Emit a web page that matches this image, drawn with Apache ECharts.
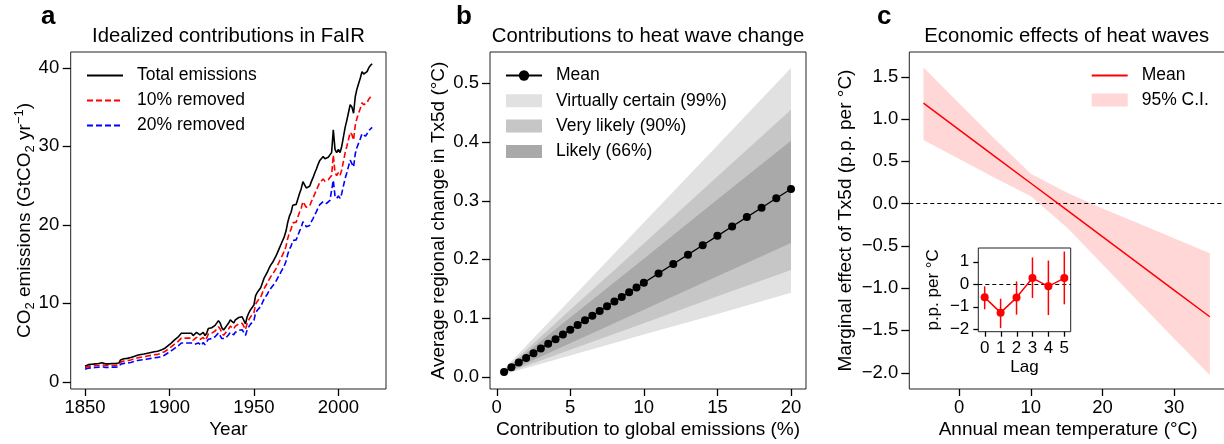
<!DOCTYPE html>
<html><head><meta charset="utf-8">
<script src="https://cdn.jsdelivr.net/npm/echarts@6/dist/echarts.min.js"></script>
<style>html,body{margin:0;padding:0;background:#fff}#c{width:1224px;height:444px}</style>
</head><body><div id="c"></div>
<script>
const FONT = '"Liberation Sans", Arial, Helvetica, sans-serif';

// ---------- Panel a: idealized contributions in FaIR ----------
const aYears = [
1850,1851,1852,1853,1854,1855,1856,1857,1858,1859,
1860,1861,1862,1863,1864,1865,1866,1867,1868,1869,
1870,1871,1872,1873,1874,1875,1876,1877,1878,1879,
1880,1881,1882,1883,1884,1885,1886,1887,1888,1889,
1890,1891,1892,1893,1894,1895,1896,1897,1898,1899,
1900,1901,1902,1903,1904,1905,1906,1907,1908,1909,
1910,1911,1912,1913,1914,1915,1916,1917,1918,1919,
1920,1921,1922,1923,1924,1925,1926,1927,1928,1929,
1930,1931,1932,1933,1934,1935,1936,1937,1938,1939,
1940,1941,1942,1943,1944,1945,1946,1947,1948,1949,
1950,1951,1952,1953,1954,1955,1956,1957,1958,1959,
1960,1961,1962,1963,1964,1965,1966,1967,1968,1969,
1970,1971,1972,1973,1974,1975,1976,1977,1978,1979,
1980,1981,1982,1983,1984,1985,1986,1987,1988,1989,
1990,1991,1992,1993,1994,1995,1996,1997,1998,1999,
2000,2001,2002,2003,2004,2005,2006,2007,2008,2009,
2010,2011,2012,2013,2014,2015,2016,2017,2018,2019,
2020];
const aTotal = [
2.0,2.2,2.2,2.25,2.25,2.3,2.3,2.35,2.35,2.4,
2.45,2.5,2.3,2.3,2.3,2.3,2.35,2.35,2.35,2.4,
2.4,2.8,2.9,2.95,3.0,3.0,3.05,3.1,3.15,3.25,
3.35,3.4,3.45,3.5,3.5,3.55,3.6,3.65,3.7,3.75,
3.8,3.85,3.9,3.9,3.95,4.05,4.15,4.25,4.4,4.6,
4.75,4.95,5.1,5.35,5.5,5.7,5.9,6.2,6.1,6.2,
6.3,6.2,6.3,6.2,5.9,6.0,6.3,6.2,6.0,5.8,
6.3,5.9,6.2,6.8,6.8,6.9,6.9,7.2,7.4,7.8,
7.5,6.9,6.6,6.9,7.2,7.5,7.9,7.8,7.5,7.9,
8.0,8.2,8.2,8.3,8.4,7.4,8.3,8.8,9.2,9.3,
9.8,11.0,11.4,11.7,12.0,12.6,13.2,13.6,14.0,14.5,
14.9,15.2,15.6,16.0,16.5,17.0,17.5,18.0,18.5,19.2,
20.3,21.1,21.6,22.5,22.4,22.6,23.3,24.0,24.6,25.5,
25.1,24.7,24.6,24.9,25.5,26.0,26.6,27.1,27.7,28.2,
28.3,28.7,28.4,28.4,28.6,28.9,29.2,32.1,29.6,29.2,
29.6,29.2,30.0,31.2,32.4,33.3,34.3,35.3,35.0,34.2,
36.3,37.3,38.0,38.7,39.5,39.2,39.1,39.5,40.0,40.3,
40.5];
const aRemoved10 = [
1.8,1.98,1.98,2.03,2.03,2.07,2.07,2.12,2.12,2.16,
2.21,2.25,2.07,2.07,2.07,2.07,2.12,2.12,2.12,2.16,
2.16,2.52,2.61,2.66,2.7,2.7,2.75,2.79,2.84,2.93,
3.02,3.06,3.11,3.15,3.15,3.2,3.24,3.29,3.33,3.38,
3.42,3.47,3.51,3.51,3.56,3.65,3.74,3.83,3.96,4.14,
4.28,4.46,4.59,4.82,4.95,5.13,5.31,5.58,5.49,5.58,
5.67,5.58,5.67,5.58,5.31,5.4,5.67,5.58,5.4,5.22,
5.67,5.31,5.58,6.12,6.12,6.21,6.21,6.48,6.66,7.02,
6.75,6.21,5.94,6.21,6.48,6.75,7.11,7.02,6.75,7.11,
7.2,7.38,7.38,7.47,7.56,6.66,7.47,7.92,8.28,8.37,
8.82,9.9,10.26,10.53,10.8,11.34,11.88,12.24,12.6,13.05,
13.41,13.68,14.04,14.4,14.85,15.3,15.75,16.2,16.65,17.28,
18.27,18.99,19.44,20.25,20.16,20.34,20.97,21.6,22.14,22.95,
22.59,22.23,22.14,22.41,22.95,23.4,23.94,24.39,24.93,25.38,
25.47,25.83,25.56,25.56,25.74,26.01,26.28,28.89,26.64,26.28,
26.64,26.28,27.0,28.08,29.16,29.97,30.87,31.77,31.5,30.78,
32.67,33.57,34.2,34.83,35.55,35.28,35.19,35.55,36.0,36.27,
36.45];
const aRemoved20 = [
1.6,1.76,1.76,1.8,1.8,1.84,1.84,1.88,1.88,1.92,
1.96,2.0,1.84,1.84,1.84,1.84,1.88,1.88,1.88,1.92,
1.92,2.24,2.32,2.36,2.4,2.4,2.44,2.48,2.52,2.6,
2.68,2.72,2.76,2.8,2.8,2.84,2.88,2.92,2.96,3.0,
3.04,3.08,3.12,3.12,3.16,3.24,3.32,3.4,3.52,3.68,
3.8,3.96,4.08,4.28,4.4,4.56,4.72,4.96,4.88,4.96,
5.04,4.96,5.04,4.96,4.72,4.8,5.04,4.96,4.8,4.64,
5.04,4.72,4.96,5.44,5.44,5.52,5.52,5.76,5.92,6.24,
6.0,5.52,5.28,5.52,5.76,6.0,6.32,6.24,6.0,6.32,
6.4,6.56,6.56,6.64,6.72,5.92,6.64,7.04,7.36,7.44,
7.84,8.8,9.12,9.36,9.6,10.08,10.56,10.88,11.2,11.6,
11.92,12.16,12.48,12.8,13.2,13.6,14.0,14.4,14.8,15.36,
16.24,16.88,17.28,18.0,17.92,18.08,18.64,19.2,19.68,20.4,
20.08,19.76,19.68,19.92,20.4,20.8,21.28,21.68,22.16,22.56,
22.64,22.96,22.72,22.72,22.88,23.12,23.36,25.68,23.68,23.36,
23.68,23.36,24.0,24.96,25.92,26.64,27.44,28.24,28.0,27.36,
29.04,29.84,30.4,30.96,31.6,31.36,31.28,31.6,32.0,32.24,
32.4];
const aXTicks = [1850, 1900, 1950, 2000];
const aYTicks = [0, 10, 20, 30, 40];

// ---------- Panel b: contributions to heat wave change ----------
const bX = [0.5,1,1.5,2,2.5,3,3.5,4,4.5,5,5.5,6,6.5,7,7.5,8,8.5,9,9.5,10,11,12,13,14,15,16,17,18,19,20];
const bMean = [0.008,0.016,0.024,0.032,0.040,0.048,0.056,0.064,0.072,0.080,0.088,0.096,0.104,0.112,0.120,0.128,0.136,0.144,0.152,0.160,0.176,0.192,0.208,0.224,0.240,0.256,0.272,0.288,0.304,0.320];
const bBandX = [0.5, 5, 10, 15, 20];
const bLow99 = [0.004, 0.036, 0.072, 0.107, 0.143];
const bUp99  = [0.013, 0.131, 0.263, 0.394, 0.526];
const bLow90 = [0.005, 0.046, 0.091, 0.137, 0.182];
const bUp90  = [0.011, 0.114, 0.227, 0.341, 0.455];
const bLow66 = [0.006, 0.057, 0.114, 0.171, 0.228];
const bUp66  = [0.010, 0.101, 0.201, 0.302, 0.402];
const bXTicks = [0, 5, 10, 15, 20];
const bYTicks = [0, 0.1, 0.2, 0.3, 0.4, 0.5];

// ---------- Panel c: economic effects of heat waves ----------
const cX = [-5, 0, 5, 10, 15, 20, 25, 30, 35];
const cMean  = [1.185, 0.870, 0.554, 0.239, -0.077, -0.393, -0.708, -1.024, -1.339];
const cUpper = [1.606, 1.18, 0.76, 0.35, 0.13, -0.06, -0.235, -0.41, -0.589];
const cLower = [0.751, 0.525, 0.30, 0.085, -0.28, -0.72, -1.16, -1.595, -2.028];
const cXTicks = [0, 10, 20, 30];
const cYTicks = [-2, -1.5, -1, -0.5, 0, 0.5, 1, 1.5];

// ---------- Inset: lag effects ----------
const lagX = [0, 1, 2, 3, 4, 5];
const lagMean = [-0.59, -1.27, -0.60, 0.27, -0.10, 0.27];
const lagLow  = [-1.12, -1.96, -1.36, -0.62, -1.38, -0.90];
const lagHigh = [-0.10, -0.65, 0.12, 1.19, 1.05, 1.45];
const lagXTicks = [0, 1, 2, 3, 4, 5];
const lagYTicks = [-2, -1, 0, 1];

const MINUS = '\u2212';
function fmtSigned(d) {
  return function (v) { const s = Math.abs(v).toFixed(d); return v < -1e-9 ? MINUS + s : s; };
}

// axis ranges (frame extents)
const RANGES = [
  { x: [1841.5, 2028.2], y: [-0.9, 42.0] },
  { x: [-0.455, 21.02], y: [-0.021, 0.5534] },
  { x: [-6.98, 37.4], y: [-2.193, 1.79] },
  { x: [-0.40, 5.40], y: [-2.12, 1.61] }
];
// tick sets per grid (x ticks, y ticks, tick lengths)
const TICKSETS = [
  { g: 0, xs: aXTicks, ys: aYTicks, lx: 7, ly: 8 },
  { g: 1, xs: bXTicks, ys: bYTicks, lx: 7, ly: 8 },
  { g: 2, xs: cXTicks, ys: cYTicks, lx: 7, ly: 8 },
  { g: 3, xs: lagXTicks, ys: lagYTicks, lx: 5, ly: 5 }
];

function axis(o) {
  return {
    type: 'value', gridIndex: o.grid, min: o.min, max: o.max,
    axisLine: { show: false, onZero: false },
    splitLine: { show: false },
    axisTick: { show: false },
    axisLabel: { show: true, customValues: o.ticks, formatter: o.fmt, margin: o.margin,
      fontSize: o.fs || 18.5, color: '#000', fontFamily: FONT },
    name: o.name, nameLocation: 'middle', nameGap: o.nameGap, nameMoveOverlap: false,
    nameTextStyle: Object.assign({ fontSize: o.nfs || 19, color: '#000', fontFamily: FONT }, o.nts || {})
  };
}

const gridBase = { show: true, borderColor: '#222', borderWidth: 1, backgroundColor: 'transparent',
  containLabel: false, outerBoundsMode: 'none' };

function polygonRenderer(xs, lo, hi, color) {
  return function (params, api) {
    if (params.dataIndex !== 0) return null;
    const pts = [];
    for (let i = 0; i < xs.length; i++) pts.push(api.coord([xs[i], hi[i]]));
    for (let i = xs.length - 1; i >= 0; i--) pts.push(api.coord([xs[i], lo[i]]));
    return { type: 'polygon', shape: { points: pts }, style: { fill: color } };
  };
}

const C99 = '#e1e1e1', C90 = '#c6c6c6', C66 = '#a9a9a9', CPINK = '#ffd7d7';
const legendText = { fontSize: 17.5, color: '#000', fontFamily: FONT, lineHeight: 20, padding: [0, 0, 0, 9] };

const TEXT_GRAPHICS = [
  { id: 'la', type: 'text', x: 41, y: 17, style: { text: 'a', font: 'bold 26px ' + FONT, fill: '#000', verticalAlign: 'middle' } },
  { id: 'lb', type: 'text', x: 456, y: 17, style: { text: 'b', font: 'bold 26px ' + FONT, fill: '#000', verticalAlign: 'middle' } },
  { id: 'lc', type: 'text', x: 877, y: 17, style: { text: 'c', font: 'bold 26px ' + FONT, fill: '#000', verticalAlign: 'middle' } },
  { id: 'ta', type: 'text', x: 228.4, y: 36, style: { text: 'Idealized contributions in FaIR', font: '20.3px ' + FONT, fill: '#000', align: 'center', verticalAlign: 'middle' } },
  { id: 'tb', type: 'text', x: 648, y: 36, style: { text: 'Contributions to heat wave change', font: '20.3px ' + FONT, fill: '#000', align: 'center', verticalAlign: 'middle' } },
  { id: 'tc', type: 'text', x: 1066.7, y: 36, style: { text: 'Economic effects of heat waves', font: '20.3px ' + FONT, fill: '#000', align: 'center', verticalAlign: 'middle' } }
];

const option = {
  animation: false,
  backgroundColor: '#fff',
  textStyle: { fontFamily: FONT },
  grid: [
    Object.assign({ left: 70.7, right: 838, top: 52, bottom: 55 }, gridBase),
    Object.assign({ left: 490, right: 418, top: 52, bottom: 55 }, gridBase),
    Object.assign({ left: 909.3, right: -3, top: 52, bottom: 55 }, gridBase),
    Object.assign({}, gridBase, { left: 978.3, right: 153.3, top: 248, bottom: 112.3, backgroundColor: '#fff' })
  ],
  xAxis: [
    axis({ grid: 0, min: RANGES[0].x[0], max: RANGES[0].x[1], ticks: aXTicks, fmt: v => String(v), margin: 9.5,
      name: 'Year', nameGap: 31 }),
    axis({ grid: 1, min: RANGES[1].x[0], max: RANGES[1].x[1], ticks: bXTicks, fmt: v => String(v), margin: 9.5,
      name: 'Contribution to global emissions (%)', nameGap: 31 }),
    axis({ grid: 2, min: RANGES[2].x[0], max: RANGES[2].x[1], ticks: cXTicks, fmt: v => String(v), margin: 9.5,
      name: 'Annual mean temperature (\u00b0C)', nameGap: 31 }),
    axis({ grid: 3, min: RANGES[3].x[0], max: RANGES[3].x[1], ticks: lagXTicks, fmt: v => String(v), margin: 8,
      fs: 17, nfs: 17, name: 'Lag', nameGap: 27 })
  ],
  yAxis: [
    axis({ grid: 0, min: RANGES[0].y[0], max: RANGES[0].y[1], ticks: aYTicks, fmt: v => String(v), margin: 11.5,
      name: '{n|CO}{s|2}{n| emissions (GtCO}{s|2}{n| yr}{p|\u22121}{n|)}', nameGap: 34,
      nts: { rich: {
        n: { fontSize: 19, color: '#000', fontFamily: FONT, lineHeight: 24 },
        s: { fontSize: 13, color: '#000', fontFamily: FONT, verticalAlign: 'bottom', lineHeight: 13 },
        p: { fontSize: 13, color: '#000', fontFamily: FONT, verticalAlign: 'top', lineHeight: 13 }
      } } }),
    axis({ grid: 1, min: RANGES[1].y[0], max: RANGES[1].y[1], ticks: bYTicks, fmt: v => v.toFixed(1), margin: 11,
      name: 'Average regional change in Tx5d (\u00b0C)', nameGap: 42 }),
    axis({ grid: 2, min: RANGES[2].y[0], max: RANGES[2].y[1], ticks: cYTicks, fmt: fmtSigned(1), margin: 11,
      name: 'Marginal effect of Tx5d (p.p. per \u00b0C)', nameGap: 54 }),
    axis({ grid: 3, min: RANGES[3].y[0], max: RANGES[3].y[1], ticks: lagYTicks, fmt: fmtSigned(0), margin: 9,
      fs: 17, nfs: 17, name: 'p.p. per \u00b0C', nameGap: 36 })
  ],
  legend: [
    { orient: 'vertical', left: 86, top: 65.5, padding: 0, itemWidth: 36, itemHeight: 14, itemGap: 5, selectedMode: false,
      itemStyle: { opacity: 0 },
      data: ['Total emissions', '10% removed', '20% removed'],
      textStyle: legendText },
    { orient: 'vertical', left: 505, top: 65.5, padding: 0, itemWidth: 36, itemHeight: 13, itemGap: 5.3, selectedMode: false,
      data: [ { name: 'Mean' },
        { name: 'Virtually certain (99%)', icon: 'rect' },
        { name: 'Very likely (90%)', icon: 'rect' },
        { name: 'Likely (66%)', icon: 'rect' } ],
      textStyle: legendText },
    { orient: 'vertical', left: 1090.7, top: 65.5, padding: 0, itemWidth: 36, itemHeight: 13, itemGap: 4.6, selectedMode: false,
      data: [ { name: 'Mean (c)', itemStyle: { opacity: 0 } }, { name: '95% C.I.', icon: 'rect' } ],
      formatter: n => n.replace(' (c)', ''),
      textStyle: legendText }
  ],
  graphic: TEXT_GRAPHICS,
  series: [
    { name: 'Total emissions', type: 'line', xAxisIndex: 0, yAxisIndex: 0, symbol: 'none', z: 5,
      data: aYears.map((y, i) => [y, aTotal[i]]), itemStyle: { color: '#000' },
      lineStyle: { color: '#000', width: 1.6 } },
    { name: '10% removed', type: 'line', xAxisIndex: 0, yAxisIndex: 0, symbol: 'none', z: 4,
      data: aYears.map((y, i) => [y, aRemoved10[i]]), itemStyle: { color: '#ff0000' },
      lineStyle: { color: '#ff0000', width: 1.6, type: [6, 3] } },
    { name: '20% removed', type: 'line', xAxisIndex: 0, yAxisIndex: 0, symbol: 'none', z: 3,
      data: aYears.map((y, i) => [y, aRemoved20[i]]), itemStyle: { color: '#0000ff' },
      lineStyle: { color: '#0000ff', width: 1.6, type: [6, 3] } },

    { name: 'Virtually certain (99%)', type: 'custom', xAxisIndex: 1, yAxisIndex: 1, silent: true, z: 1,
      itemStyle: { color: C99 }, encode: { x: 0, y: [1, 2] },
      data: bBandX.map((x, i) => [x, bLow99[i], bUp99[i]]),
      renderItem: polygonRenderer(bBandX, bLow99, bUp99, C99) },
    { name: 'Very likely (90%)', type: 'custom', xAxisIndex: 1, yAxisIndex: 1, silent: true, z: 2,
      itemStyle: { color: C90 }, encode: { x: 0, y: [1, 2] },
      data: bBandX.map((x, i) => [x, bLow90[i], bUp90[i]]),
      renderItem: polygonRenderer(bBandX, bLow90, bUp90, C90) },
    { name: 'Likely (66%)', type: 'custom', xAxisIndex: 1, yAxisIndex: 1, silent: true, z: 3,
      itemStyle: { color: C66 }, encode: { x: 0, y: [1, 2] },
      data: bBandX.map((x, i) => [x, bLow66[i], bUp66[i]]),
      renderItem: polygonRenderer(bBandX, bLow66, bUp66, C66) },
    { name: 'Mean', type: 'line', xAxisIndex: 1, yAxisIndex: 1, z: 5, symbol: 'circle', symbolSize: 8,
      data: bX.map((x, i) => [x, bMean[i]]), itemStyle: { color: '#000' },
      lineStyle: { color: '#000', width: 1.3 } },

    { name: '95% C.I.', type: 'custom', xAxisIndex: 2, yAxisIndex: 2, silent: true, z: 1,
      itemStyle: { color: CPINK }, encode: { x: 0, y: [1, 2] },
      data: cX.map((x, i) => [x, cLower[i], cUpper[i]]),
      renderItem: polygonRenderer(cX, cLower, cUpper, CPINK) },
    { name: 'Mean (c)', type: 'line', xAxisIndex: 2, yAxisIndex: 2, z: 5, symbol: 'none',
      data: cX.map((x, i) => [x, cMean[i]]), itemStyle: { color: '#ff0000' },
      lineStyle: { color: '#ff0000', width: 1.5 },
      markLine: { silent: true, symbol: 'none', label: { show: false }, animation: false,
        lineStyle: { color: '#000', width: 1.1, type: [4, 3] }, data: [{ yAxis: 0 }] } },

    { name: 'lag bars', type: 'custom', xAxisIndex: 3, yAxisIndex: 3, silent: true, z: 6,
      encode: { x: 0, y: [1, 2] },
      data: lagX.map((x, i) => [x, lagLow[i], lagHigh[i]]),
      renderItem: function (params, api) {
        const p1 = api.coord([api.value(0), api.value(1)]);
        const p2 = api.coord([api.value(0), api.value(2)]);
        return { type: 'line', shape: { x1: p1[0], y1: p1[1], x2: p2[0], y2: p2[1] },
          style: { stroke: '#ff0000', lineWidth: 1.5 } };
      } },
    { name: 'lag mean', type: 'line', xAxisIndex: 3, yAxisIndex: 3, z: 7, symbol: 'circle', symbolSize: 8,
      data: lagX.map((x, i) => [x, lagMean[i]]), itemStyle: { color: '#ff0000' },
      lineStyle: { color: '#ff0000', width: 1.5 },
      markLine: { silent: true, symbol: 'none', label: { show: false }, animation: false,
        lineStyle: { color: '#000', width: 1.1, type: [4, 3] }, data: [{ yAxis: 0 }] } }
  ]
};

const chart = echarts.init(document.getElementById('c'), null, { renderer: 'canvas' });
chart.setOption(option);

// Axis tick marks: positions come from the library's own scales (convertToPixel)
const tickEls = [];
TICKSETS.forEach(function (t) {
  const r = RANGES[t.g];
  t.xs.forEach(function (v, i) {
    const p = chart.convertToPixel({ gridIndex: t.g }, [v, r.y[0]]);
    const x = Math.round(p[0]) + 0.5;
    tickEls.push({ id: 'tx' + t.g + '_' + i, type: 'line', silent: true, z: 100,
      shape: { x1: x, y1: p[1], x2: x, y2: p[1] + t.lx }, style: { stroke: '#000', lineWidth: 1.3 } });
  });
  t.ys.forEach(function (v, i) {
    const p = chart.convertToPixel({ gridIndex: t.g }, [r.x[0], v]);
    const y = Math.round(p[1]) + 0.5;
    tickEls.push({ id: 'ty' + t.g + '_' + i, type: 'line', silent: true, z: 100,
      shape: { x1: p[0] - t.ly, y1: y, x2: p[0], y2: y }, style: { stroke: '#000', lineWidth: 1.3 } });
  });
});
chart.setOption({ graphic: TEXT_GRAPHICS.concat(tickEls) });
</script>
</body></html>
